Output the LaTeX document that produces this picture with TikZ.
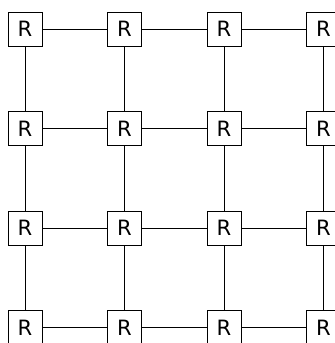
\documentclass[tikz,border=0pt]{standalone}
\usepackage{fontspec}
\setsansfont{DejaVu Sans}
\usetikzlibrary{calc}

\begin{document}
\begin{tikzpicture}[
    x=1cm, y=1cm, font=\sffamily\large,
    router/.style={draw, line width=0.5pt, fill=white, inner sep=0pt,
                   minimum size=0.68cm},
    link/.style={line width=0.5pt},
]

% ===================== Marco =====================
\useasboundingbox (0,0) rectangle (6.70,-6.86);

% ===================== Routers =====================
\foreach \i in {0,...,3} {
  \foreach \j in {0,...,3} {
    \node[router] (r-\i-\j) at ({0.50+1.99*\i},{-0.58-1.99*\j}) {R};
  }
}

% ===================== Enlaces horizontales =====================
\foreach \i [evaluate=\i as \k using int(\i+1)] in {0,1,2} {
  \foreach \j in {0,...,3} {
    \draw[link] (r-\i-\j) -- (r-\k-\j);
  }
}

% ===================== Enlaces verticales =====================
\foreach \i in {0,...,3} {
  \foreach \j [evaluate=\j as \k using int(\j+1)] in {0,1,2} {
    \draw[link] (r-\i-\j) -- (r-\i-\k);
  }
}

\end{tikzpicture}
\end{document}
